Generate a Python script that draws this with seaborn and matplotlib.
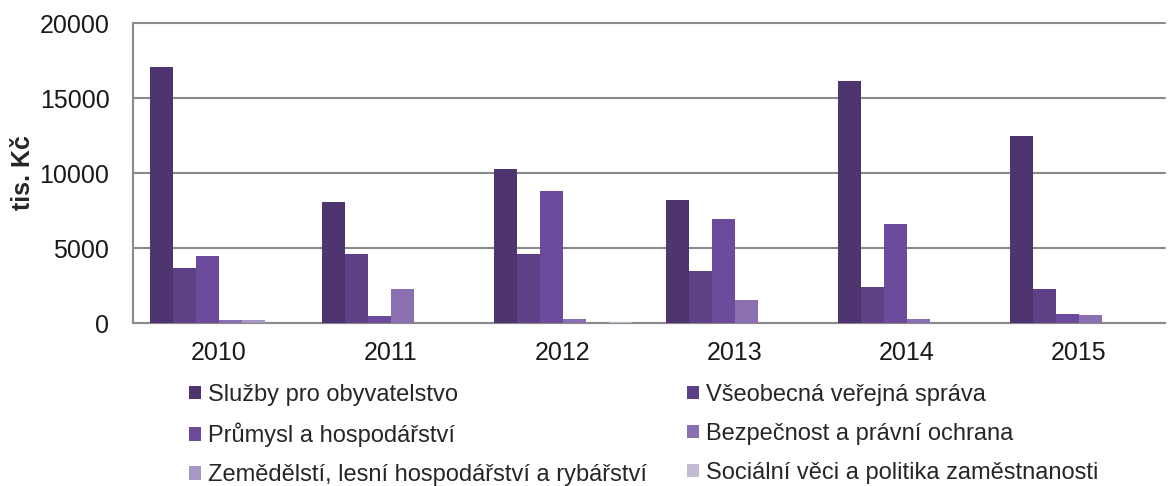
import matplotlib
matplotlib.use("Agg")
import pandas as pd
import matplotlib.pyplot as plt
import seaborn as sns

# === DATA ===
ROKY = ["2010", "2011", "2012", "2013", "2014", "2015"]
OBLASTI = [
    "Služby pro obyvatelstvo",
    "Všeobecná veřejná správa",
    "Průmysl a hospodářství",
    "Bezpečnost a právní ochrana",
    "Zemědělstí, lesní hospodářství a rybářství",
    "Sociální věci a politika zaměstnanosti",
]
SLUZBY = [17100, 8050, 10250, 8200, 16150, 12450]
SPRAVA = [3700, 4600, 4600, 3450, 2400, 2300]
PRUMYSL = [4500, 450, 8800, 6950, 6600, 620]
BEZPECNOST = [180, 2300, 270, 1550, 280, 550]
ZEMEDELSTVI = [180, 0, 0, 0, 0, 0]
SOCIALNI = [0, 0, 100, 0, 0, 0]
BARVY = ["#4f356f", "#5d4086", "#6c4b9c", "#8a70b1", "#a698c2", "#c2bbd2"]

serie = [SLUZBY, SPRAVA, PRUMYSL, BEZPECNOST, ZEMEDELSTVI, SOCIALNI]
df = pd.DataFrame(
    [(rok, oblast, hodnoty[i]) for oblast, hodnoty in zip(OBLASTI, serie) for i, rok in enumerate(ROKY)],
    columns=["rok", "oblast", "hodnota"],
)

# === STYL ===
sns.set_style("white")
plt.rcParams["font.family"] = ["Liberation Sans", "DejaVu Sans"]

fig = plt.figure(figsize=(11.68, 4.86), dpi=100)
ax = fig.add_axes([133 / 1168, 1 - 323 / 486, (1165 - 133) / 1168, 300 / 486])

sns.barplot(data=df, x="rok", y="hodnota", hue="oblast", hue_order=OBLASTI,
            order=ROKY, palette=BARVY, width=0.8, saturation=1, linewidth=0,
            ax=ax, zorder=3)

ax.set_ylim(0, 20000)
ax.set_yticks([0, 5000, 10000, 15000, 20000])
ax.yaxis.grid(True, color="#8a8a8a", linewidth=1.5, zorder=0)
ax.set_axisbelow(True)
for g in ax.get_ygridlines():
    g.set_clip_on(False)
for s in ["top", "right"]:
    ax.spines[s].set_visible(False)
for s in ["left", "bottom"]:
    ax.spines[s].set_color("#8a8a8a")
    ax.spines[s].set_linewidth(1.5)
ax.tick_params(axis="y", length=6, width=1.5, color="#8a8a8a", pad=11, labelsize=18, labelcolor="#1a1a1a")
ax.tick_params(axis="x", length=0, pad=13, labelsize=18, labelcolor="#1a1a1a")
ax.set_xlabel("")
ax.set_ylabel("tis. Kč", fontsize=18, fontweight="bold", labelpad=3)

# legenda po radcich: 2 sloupce
h, l = ax.get_legend_handles_labels()
ax.get_legend().remove()
poradi = [0, 2, 4, 1, 3, 5]
fig.legend([h[i] for i in poradi], [l[i] for i in poradi], ncol=2,
           loc="upper left", bbox_to_anchor=(177 / 1168, 1 - 372 / 486),
           frameon=False, fontsize=17, handlelength=0.5, handleheight=0.5,
           handletextpad=0.3, columnspacing=1.72, labelspacing=0.72, borderpad=0)

fig.savefig("out.png", dpi=100)
